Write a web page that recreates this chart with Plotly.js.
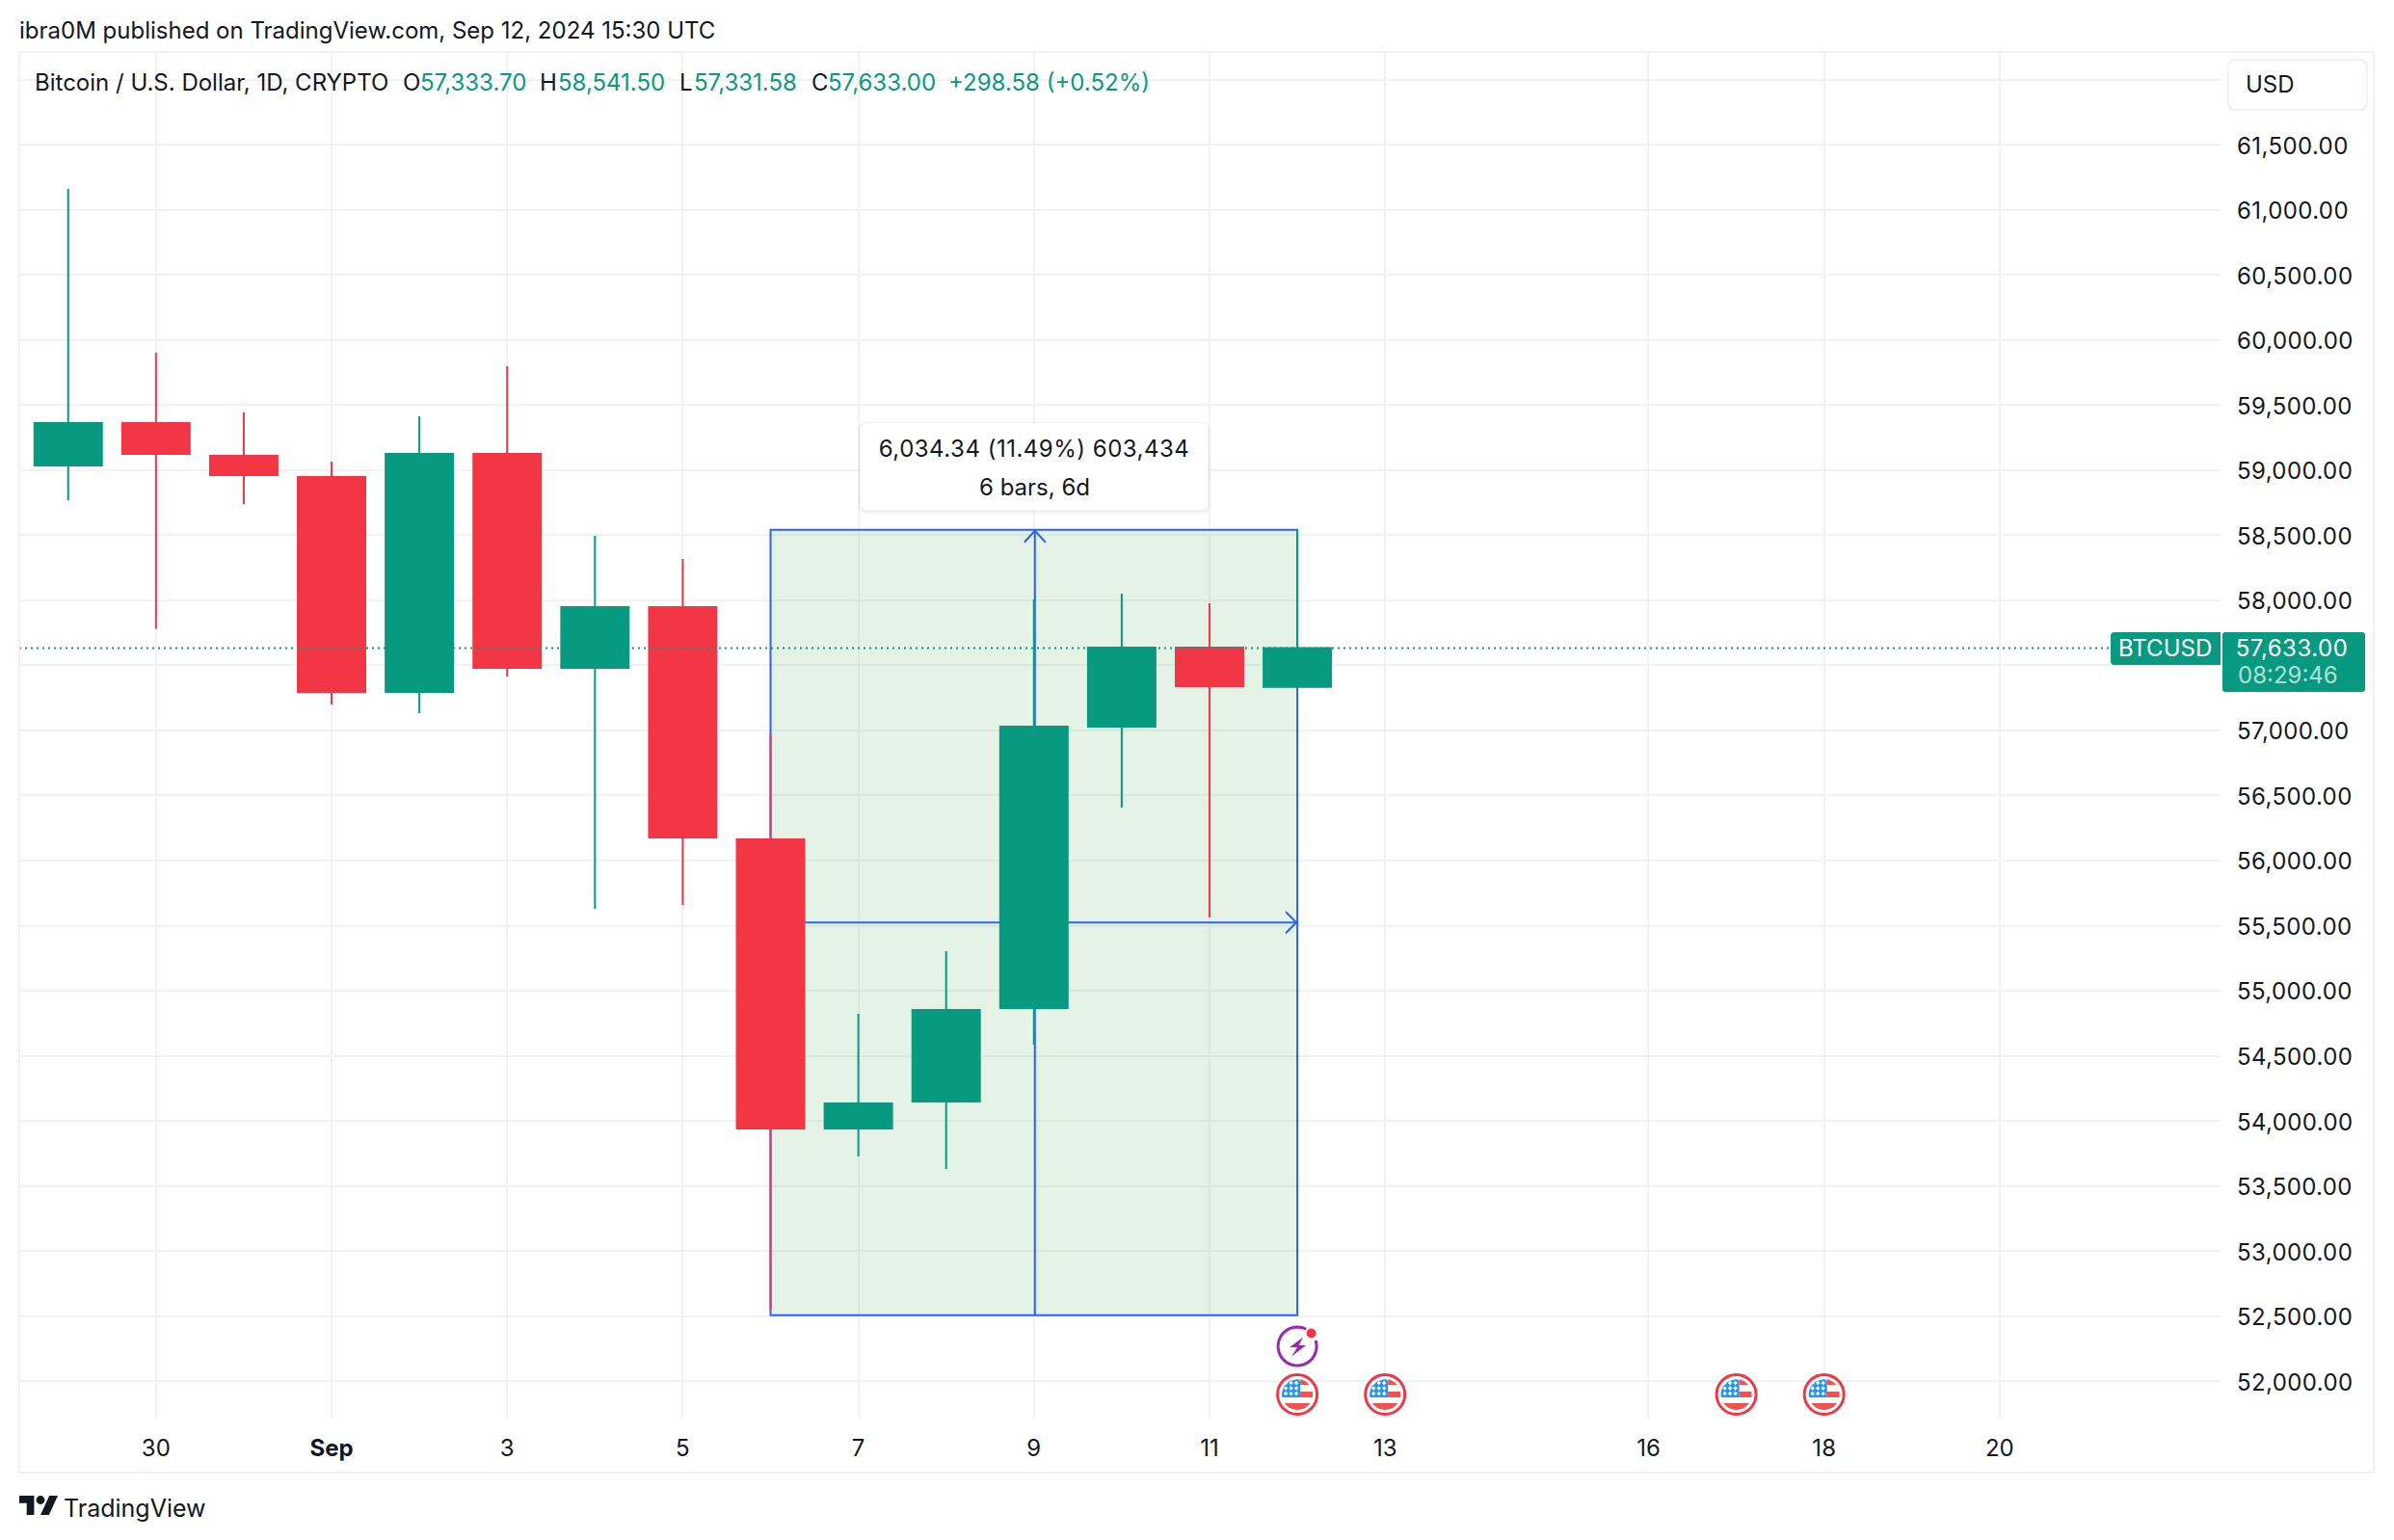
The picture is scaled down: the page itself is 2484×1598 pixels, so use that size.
<!DOCTYPE html>
<html>
<head>
<meta charset="utf-8">
<script src="https://cdn.plot.ly/plotly-3.0.1.min.js"></script>
<style>
  html, body { margin: 0; padding: 0; background: #fff; }
  svg text { font-variant-numeric: tabular-nums; }
  .ytick text { letter-spacing: 0.4px; }
  .annotation[data-index="13"] text { letter-spacing: 0.5px; }
  .annotation[data-index="15"] text { letter-spacing: 0.5px; }
</style>
</head>
<body>
<div id="chart"></div>
<script>
'use strict';

// Daily candles
var candleDates = ['2024-08-29', '2024-08-30', '2024-08-31', '2024-09-01', '2024-09-02', '2024-09-03', '2024-09-04', '2024-09-05',
  '2024-09-06', '2024-09-07', '2024-09-08', '2024-09-09', '2024-09-10', '2024-09-11', '2024-09-12'];
var openPrices = [59035, 59362, 59110, 58947, 57295, 59125, 57480, 57948, 56163, 53941, 54149, 54867, 57030, 57637, 57333.7];
var highPrices = [61160, 59902, 59443, 59065, 59413, 59798, 58495, 58317, 56977, 54823, 55304, 58007, 58051, 57977, 58541.5];
var lowPrices = [58769, 57780, 58740, 57200, 57133, 57414, 55630, 55659, 52550, 53727, 53631, 54586, 56407, 55563, 57331.58];
var closePrices = [59362, 59124, 58961, 57295, 59125, 57480, 57948, 56177, 53941, 54135, 54853, 57030, 57637, 57341, 57633];

var xTickDates = ['2024-08-30', '2024-09-01', '2024-09-03', '2024-09-05', '2024-09-07', '2024-09-09', '2024-09-11', '2024-09-13',
  '2024-09-16', '2024-09-18', '2024-09-20'];
var xTickLabels = ['30', '<b>Sep</b>', '3', '5', '7', '9', '11', '13', '16', '18', '20'];

// 62,000 sits behind the USD button and 57,500 behind the price tag
var yTickValues = [52000, 52500, 53000, 53500, 54000, 54500, 55000, 55500, 56000, 56500, 57000, 57500, 58000, 58500, 59000, 59500,
  60000, 60500, 61000, 61500, 62000];
var yTickLabels = ['52,000.00', '52,500.00', '53,000.00', '53,500.00', '54,000.00', '54,500.00', '55,000.00', '55,500.00', '56,000.00',
  '56,500.00', '57,000.00', '', '58,000.00', '58,500.00', '59,000.00', '59,500.00', '60,000.00', '60,500.00', '61,000.00', '61,500.00', ''];

// Date & price range tool
var measureStart = '2024-09-06';
var measureMiddle = '2024-09-09 00:16';
var measureEnd = '2024-09-12';
var measureLow = 52507.16;
var measureHigh = 58541.5;
var measureMidPrice = 55524;
var lastClose = 57633;

var usEventDates = ['2024-09-12', '2024-09-13', '2024-09-17', '2024-09-18'];
var alertEventDate = '2024-09-12';

var GREEN = '#089981', RED = '#f23645', BLUE = '#2962ff', INK = '#131722', GRID = '#f2f2f5', BORDER = '#f0f1f7';
var FONT = 'Inter, "Noto Sans", sans-serif';

// Page pixels to paper coordinates
var plotLeft = 20, plotRight = 2304, plotTop = 55, plotBottom = 1472;
function paperX(px) { return (px - plotLeft) / (plotRight - plotLeft); }
function paperY(py) { return (plotBottom - py) / (plotBottom - plotTop); }

function pt(x, y) { return x.toFixed(2) + ' ' + (-y).toFixed(2); }

function polyPath(points, closed) {
  var s = points.map(function(p, i) { return (i ? 'L ' : 'M ') + pt(p[0], p[1]); }).join(' ');
  return closed ? s + ' Z' : s;
}

function roundRect(x0, y0, x1, y1, r) {
  return 'M ' + pt(x0 + r, y0) + ' L ' + pt(x1 - r, y0) + ' Q ' + pt(x1, y0) + ' ' + pt(x1, y0 + r) +
    ' L ' + pt(x1, y1 - r) + ' Q ' + pt(x1, y1) + ' ' + pt(x1 - r, y1) +
    ' L ' + pt(x0 + r, y1) + ' Q ' + pt(x0, y1) + ' ' + pt(x0, y1 - r) +
    ' L ' + pt(x0, y0 + r) + ' Q ' + pt(x0, y0) + ' ' + pt(x0 + r, y0) + ' Z';
}

function pixelPath(xref, xanchor, yref, yanchor, path, fill, stroke, width) {
  return {
    type: 'path', layer: 'above', xref: xref, yref: yref, xsizemode: 'pixel', ysizemode: 'pixel',
    xanchor: xanchor, yanchor: yanchor, path: path,
    fillcolor: fill || 'rgba(0,0,0,0)', line: {color: stroke || 'rgba(0,0,0,0)', width: stroke ? (width || 2) : 0}
  };
}

// path given in page pixels
function pagePath(path, fill, stroke, width) {
  return pixelPath('paper', paperX(0), 'paper', paperY(0), path, fill, stroke, width);
}

function pixelCircle(xref, xanchor, yanchor, cx, cy, r, fill, stroke, width) {
  return {
    type: 'circle', layer: 'above', xref: xref, yref: 'paper', xsizemode: 'pixel', ysizemode: 'pixel',
    xanchor: xanchor, yanchor: yanchor, x0: cx - r, x1: cx + r, y0: -cy - r, y1: -cy + r,
    fillcolor: fill || 'rgba(0,0,0,0)', line: {color: stroke || 'rgba(0,0,0,0)', width: stroke ? width : 0}
  };
}

// A piece of a disc cut to a box, as polygon
function discPiece(r, xMin, xMax, yMin, yMax) {
  var right = [], left = [], steps = 10;
  for (var i = 0; i <= steps; i++) {
    var y = yMin + (yMax - yMin) * i / steps;
    var half = Math.sqrt(Math.max(r * r - y * y, 0));
    right.push([Math.min(xMax, half), y]);
    left.unshift([Math.max(xMin, -half), y]);
  }
  return polyPath(right.concat(left), true);
}

function flagIcon(date) {
  var ya = paperY(1447), out = [];
  out.push(pixelCircle('x', date, ya, 0, 0, 20.5, '#ffffff', RED, 3));
  out.push(pixelPath('x', date, 'paper', ya, discPiece(16, 3, 16, -16, -10), '#ef5350'));
  out.push(pixelPath('x', date, 'paper', ya, discPiece(16, 3, 16, -3, 3), '#ef5350'));
  out.push(pixelPath('x', date, 'paper', ya, discPiece(16, -16, 16, 9, 16), '#ef5350'));
  out.push(pixelPath('x', date, 'paper', ya, discPiece(16, -16, 3, -16, 3), '#2196f3'));
  var stars = '';
  [-12, -6.5, -1].forEach(function(sy) {
    [-12, -6.5, -1].forEach(function(sx) {
      stars += polyPath([[sx, sy - 2.2], [sx + 2.2, sy], [sx, sy + 2.2], [sx - 2.2, sy]], true) + ' ';
    });
  });
  out.push(pixelPath('x', date, 'paper', ya, stars, '#ffffff'));
  return out;
}

function alertIcon(date) {
  var ya = paperY(1397), ring = [], out = [];
  for (var a = -18; a <= 297; a += 9) {
    ring.push([20 * Math.cos(a * Math.PI / 180), 20 * Math.sin(a * Math.PI / 180)]);
  }
  out.push(pixelPath('x', date, 'paper', ya, polyPath(ring), null, '#9c27b0', 3));
  out.push(pixelPath('x', date, 'paper', ya, polyPath([[6, -9.5], [-8, 1], [0, 1], [-6, 10.5], [9, -1], [1.5, -1]], true), '#9c27b0'));
  out.push(pixelCircle('x', date, ya, 14.5, -13.5, 5, RED));
  return out;
}

var candleTrace = {
  type: 'candlestick',
  x: candleDates,
  open: openPrices,
  high: highPrices,
  low: lowPrices,
  close: closePrices,
  increasing: {line: {color: GREEN, width: 2}, fillcolor: GREEN},
  decreasing: {line: {color: RED, width: 2}, fillcolor: RED},
  whiskerwidth: 0,
  hoverinfo: 'x+y',
  showlegend: false
};

var shapes = [
  // measure box sits over the grid, under the candles
  {type: 'rect', layer: 'between', xref: 'x', yref: 'y', x0: measureStart, x1: measureEnd, y0: measureLow, y1: measureHigh,
    fillcolor: 'rgba(76,175,80,0.15)', line: {color: BLUE, width: 2}},
  {type: 'line', layer: 'between', xref: 'x', yref: 'y', x0: measureMiddle, x1: measureMiddle, y0: measureLow, y1: measureHigh,
    line: {color: BLUE, width: 2}},
  {type: 'line', layer: 'between', xref: 'x', yref: 'y', x0: measureStart, x1: measureEnd, y0: measureMidPrice, y1: measureMidPrice,
    line: {color: BLUE, width: 2}},
  Object.assign(pixelPath('x', measureMiddle, 'y', measureHigh, polyPath([[-11, 13], [0, 1], [11, 13]]), null, BLUE, 2), {layer: 'between'}),
  Object.assign(pixelPath('x', measureEnd, 'y', measureMidPrice, polyPath([[-12, -11], [-1, 0], [-12, 11]]), null, BLUE, 2), {layer: 'between'}),
  // last price line
  {type: 'line', layer: 'above', xref: 'paper', yref: 'y', x0: 0, x1: 1, y0: lastClose, y1: lastClose,
    line: {color: GREEN, width: 2, dash: '2px,4px'}},
  // outer frame
  pagePath(polyPath([[20, 54], [2463, 54], [2463, 1528], [20, 1528]], true), null, BORDER, 2),
  // tags
  pagePath('M ' + pt(2304, 656) + ' L ' + pt(2194, 656) + ' Q ' + pt(2190, 656) + ' ' + pt(2190, 660) + ' L ' + pt(2190, 686) +
    ' Q ' + pt(2190, 690) + ' ' + pt(2194, 690) + ' L ' + pt(2304, 690) + ' Z', GREEN),
  pagePath(roundRect(2306, 656, 2454, 718, 3), GREEN),
  // USD button
  pagePath(roundRect(2312, 62, 2456, 114, 8), '#ffffff', BORDER, 2),
  // measure tooltip with a soft shadow
  pagePath(roundRect(889, 437, 1257, 534, 10), 'rgba(0,0,0,0.012)'),
  pagePath(roundRect(890, 438, 1256, 533, 10), 'rgba(0,0,0,0.015)'),
  pagePath(roundRect(891, 438, 1255, 532, 9), 'rgba(0,0,0,0.025)'),
  pagePath(roundRect(893, 439, 1253, 529, 8), '#ffffff'),
  // TradingView mark
  pagePath(polyPath([[20, 1552], [35.4, 1552], [35.4, 1572], [27.7, 1572], [27.7, 1559.7], [20, 1559.7]], true), INK),
  pagePath(polyPath([[51.2, 1552], [60, 1552], [50.8, 1572], [42, 1572]], true), INK),
  pixelCircle('paper', paperX(42), paperY(1556.5), 0, 0, 4.4, INK)
];
usEventDates.forEach(function(d) { shapes = shapes.concat(flagIcon(d)); });
shapes = shapes.concat(alertIcon(alertEventDate));

function label(text, px, py, color, size, anchor) {
  return {
    text: text, xref: 'paper', yref: 'paper', x: paperX(px), y: paperY(py), xanchor: anchor || 'left', yanchor: 'middle',
    showarrow: false, borderpad: 0, borderwidth: 0, font: {family: FONT, size: size || 24, color: color || INK}
  };
}

var annotations = [
  label('ibra0M published on TradingView.com, Sep 12, 2024 15:30 UTC', 20, 32),
  label('Bitcoin / U.S. Dollar, 1D, CRYPTO', 36, 85),
  label('O', 418, 85), label('57,333.70', 436, 85, GREEN),
  label('H', 560, 85), label('58,541.50', 579, 85, GREEN),
  label('L', 705, 85), label('57,331.58', 720, 85, GREEN),
  label('C', 842, 85), label('57,633.00', 859, 85, GREEN),
  label('+298.58 (+0.52%)', 984, 85, GREEN),
  label('USD', 2330, 87),
  label('BTCUSD', 2198, 672, '#ffffff'),
  label('57,633.00', 2322, 672, '#ffffff'),
  label('08:29:46', 2322, 700, 'rgba(255,255,255,0.7)'),
  label('6,034.34 (11.49%) 603,434', 1073, 465, INK, 24, 'center'),
  label('6 bars, 6d', 1073, 505, INK, 24, 'center'),
  label('TradingView', 66, 1565, INK, 25)
];

var layout = {
  width: 2484,
  height: 1598,
  margin: {l: plotLeft, r: 2484 - plotRight, t: plotTop, b: 1598 - plotBottom, pad: 0},
  paper_bgcolor: '#ffffff',
  plot_bgcolor: '#ffffff',
  showlegend: false,
  hovermode: false,
  boxgap: 0.232,
  boxgroupgap: 0,
  font: {family: FONT, color: INK, size: 24},
  xaxis: {
    type: 'date',
    range: ['2024-08-28 10:38', '2024-09-22 12:22'],
    rangeslider: {visible: false},
    tickmode: 'array',
    tickvals: xTickDates,
    ticktext: xTickLabels,
    ticks: '',
    ticklabelstandoff: 14,
    showgrid: true,
    gridcolor: GRID,
    gridwidth: 2,
    zeroline: false,
    showline: false
  },
  yaxis: {
    side: 'right',
    range: [51713, 62204.6],
    tickmode: 'array',
    tickvals: yTickValues,
    ticktext: yTickLabels,
    ticks: '',
    ticklabelstandoff: 16,
    ticklabelshift: 1,
    showgrid: true,
    gridcolor: GRID,
    gridwidth: 2,
    zeroline: false,
    showline: false
  },
  shapes: shapes,
  annotations: annotations
};

Plotly.newPlot('chart', [candleTrace], layout, {displayModeBar: false, staticPlot: true});
</script>
</body>
</html>
